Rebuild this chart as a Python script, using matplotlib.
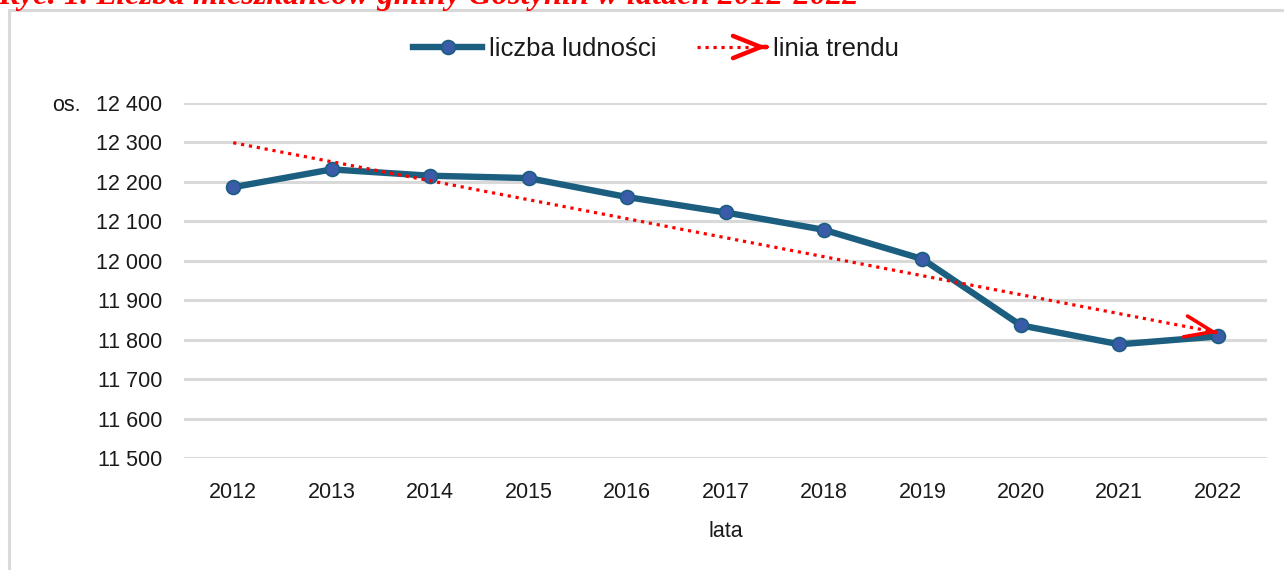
import numpy as np
import matplotlib
matplotlib.use("Agg")
import matplotlib.pyplot as plt
from matplotlib.lines import Line2D
from matplotlib.patches import FancyArrowPatch, Rectangle
from matplotlib.legend_handler import HandlerBase

# ---- data ----
years = ['2012', '2013', '2014', '2015', '2016', '2017', '2018', '2019', '2020', '2021', '2022']
population = [12186, 12231, 12215, 12209, 12161, 12122, 12078, 12004, 11836, 11788, 11808]
ytick_values = [11500, 11600, 11700, 11800, 11900, 12000, 12100, 12200, 12300, 12400]
series_label = 'liczba ludności'
trend_label = 'linia trendu'
x_title = 'lata'
y_unit = 'os.'
fig_title = 'Ryc. 1. Liczba mieszkańców gminy Gostynin w latach 2012-2022'

plt.rcParams['font.family'] = ['Liberation Sans', 'DejaVu Sans']

W, H = 1284, 570
fig = plt.figure(figsize=(W / 100, H / 100), dpi=100)
fig.patch.set_facecolor('white')

ax = fig.add_axes([184 / W, 1 - 458 / H, (1267 - 184) / W, (458 - 102.7) / H])

x = np.arange(len(years))
line_col = '#1B5E80'
marker_col = '#3A5BA8'
ax.plot(x, population, color=line_col, lw=4.6, marker='o', ms=10,
        mfc=marker_col, mec=line_col, mew=1.2, zorder=3, solid_capstyle='round')

# linear trend (least squares, like Excel)
coef = np.polyfit(x, population, 1)
trend = np.polyval(coef, x)
ax.plot(x, trend, color='red', lw=2.3, ls=(0, (1, 1.5)), zorder=4)
x_end = x[-1]
x_pre = x_end - 0.02
ax.annotate('', xy=(x_end, np.polyval(coef, x_end)), xytext=(x_pre, np.polyval(coef, x_pre)),
            arrowprops=dict(arrowstyle='->,head_length=1.0,head_width=0.38', color='red',
                            lw=2.6, shrinkA=0, shrinkB=0, mutation_scale=20), zorder=5)

ax.set_xlim(-0.5, len(years) - 0.5)
ax.set_ylim(ytick_values[0], ytick_values[-1])
ax.set_yticks(ytick_values)
ax.set_yticklabels([f'{v:,}'.replace(',', ' ') for v in ytick_values])
ax.set_xticks(x)
ax.set_xticklabels(years)
ax.tick_params(axis='both', length=0, labelsize=15.5, colors='#1a1a1a')
ax.tick_params(axis='y', pad=15.5)
ax.tick_params(axis='x', pad=17)
for s in ax.spines.values():
    s.set_visible(False)
ax.grid(axis='y', color='#D9D9D9', lw=2.2)
ax.set_axisbelow(True)

ax.set_xlabel(x_title, fontsize=15.5, color='#1a1a1a', labelpad=13)
fig.text(81 / W, 1 - 111 / H, y_unit, fontsize=15.5, color='#1a1a1a', ha='right', va='baseline')

# legend with custom arrow handle
class HandlerArrowLine(HandlerBase):
    def create_artists(self, legend, orig_handle, xdescent, ydescent, width, height, fontsize, trans):
        y = height / 2 - ydescent
        x0 = -xdescent
        ln = Line2D([x0, x0 + width * 0.75], [y, y], color='red', lw=2.3, ls=(0, (1, 1.5)),
                    transform=trans)
        arr = FancyArrowPatch((x0 + width - 0.5, y), (x0 + width, y),
                              arrowstyle='->,head_length=1.0,head_width=0.4', color='red',
                              lw=3.2, mutation_scale=20, shrinkA=0, shrinkB=0, transform=trans)
        return [ln, arr]

h1 = Line2D([], [], color=line_col, lw=4.6, marker='o', ms=10, mfc=marker_col, mec=line_col, mew=1.2)
h2 = Line2D([], [], color='red')
fig.legend([h1, h2], [series_label, trend_label], loc='center', bbox_to_anchor=(656 / W, 1 - 49 / H),
           ncol=2, frameon=False, fontsize=18.5, handlelength=2.7, handletextpad=0.25,
           columnspacing=1.6, handler_map={h2: HandlerArrowLine()}, labelcolor='#1a1a1a')

# outer chart frame (partially outside the picture)
fig.patches.append(Rectangle((9 / W, -0.2), 1.2, 1.2 - 9.5 / H, transform=fig.transFigure,
                             fill=False, edgecolor='#D9D9D9', lw=2.2, zorder=0))

# cut-off caption at the very top
fig.text(-2 / W, 1 - 4 / H, fig_title, fontsize=23.3, color='red', family='Liberation Serif',
         fontweight='bold', fontstyle='italic', ha='left', va='baseline')

fig.savefig('out.png', dpi=100, facecolor='white')
